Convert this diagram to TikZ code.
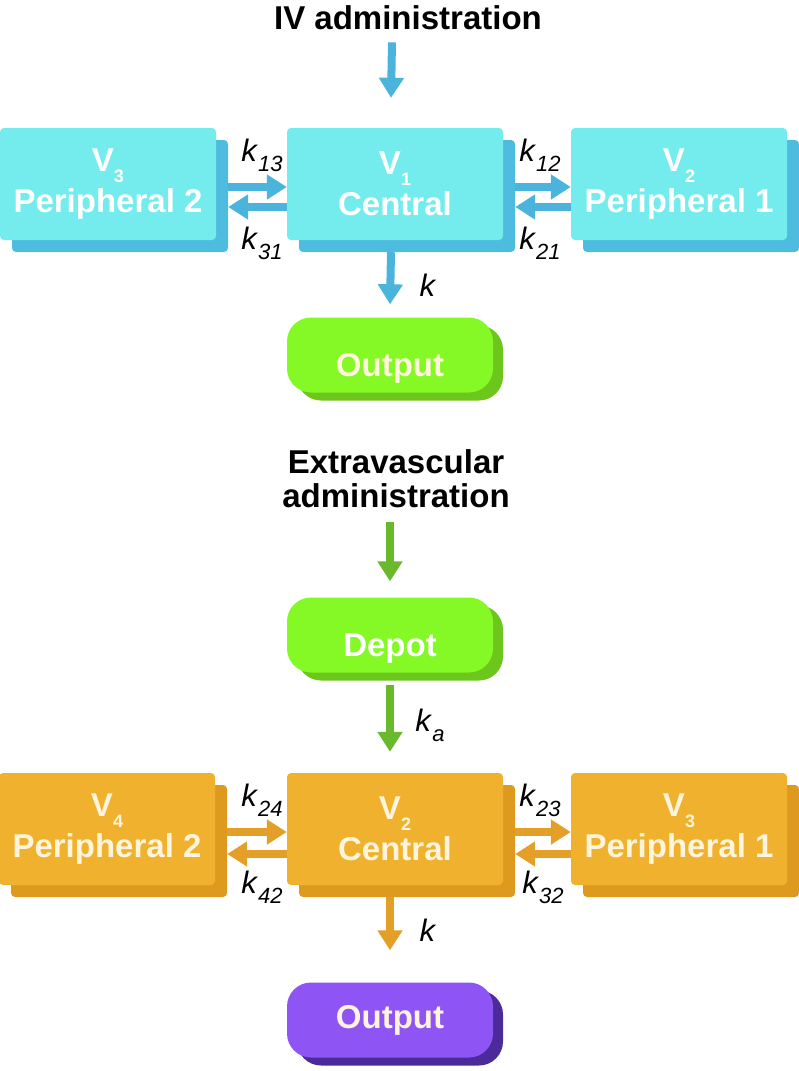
\documentclass[tikz,border=0pt]{standalone}
\usepackage{fontspec}
\setmainfont{Liberation Sans}
\usetikzlibrary{arrows.meta,shadows}

\definecolor{cyanfront}{HTML}{74ECEE}
\definecolor{cyanback}{HTML}{4EBCDF}
\definecolor{cyanarrow}{HTML}{4AB4DC}
\definecolor{greenfront}{HTML}{84F926}
\definecolor{greenback}{HTML}{6CC61C}
\definecolor{greenarrow}{HTML}{6AB82C}
\definecolor{orangefront}{HTML}{F0B12E}
\definecolor{orangeback}{HTML}{DE9A1E}
\definecolor{orangearrow}{HTML}{E39F27}
\definecolor{purplefront}{HTML}{8E55F4}
\definecolor{purpleback}{HTML}{4B2A9A}
\definecolor{cream}{HTML}{FFF5DC}

\newcommand{\vsub}[1]{\raisebox{-11pt}{\fontsize{18}{18}\selectfont #1}}
\newcommand{\rate}[1]{\textit{k}\raisebox{-10pt}{\fontsize{22}{22}\selectfont\itshape #1}}

\begin{document}
\begin{tikzpicture}[x=1pt,y=-1pt,
    every node/.style={font=\bfseries\fontsize{33}{41}\selectfont},
    comp/.style n args={2}{fill=#1,rounded corners=4pt,minimum width=216pt,%
      minimum height=112pt,inner sep=0pt,align=center,%
      general shadow={shadow xshift=12pt,shadow yshift=-12pt,fill=#2}},
    pill/.style n args={2}{fill=#1,rounded corners=24pt,minimum width=206pt,%
      minimum height=75pt,inner sep=0pt,%
      general shadow={shadow xshift=10pt,shadow yshift=-8pt,fill=#2}},
    low/.style={text height=42pt,text depth=0pt},
    ratelbl/.style={font=\fontsize{31}{34}\selectfont,inner sep=0pt},
    flow/.style={line width=8pt,draw=#1,-{Triangle[length=20pt,width=24pt]}}]
  \useasboundingbox (0,0) rectangle (799,1071) ;

  % intravenous
  \node[inner sep=0pt] (ivtitle) at (408,18) {IV administration} ;
  \node[comp={cyanfront}{cyanback},text=white] (cenA) at (395,184) {V\vsub{1}\\Central} ;
  \node[comp={cyanfront}{cyanback},text=white] (perA2) at (108,184) {V\vsub{3}\\Peripheral 2} ;
  \node[comp={cyanfront}{cyanback},text=white] (perA1) at (679,184) {V\vsub{2}\\Peripheral 1} ;
  \node[pill={greenfront}{greenback},low,text=cream] (outA) at (390,355) {Output} ;

  \draw[flow=cyanarrow] ([xshift=-16pt,yshift=-12pt]ivtitle.south) -- ([xshift=-4pt,yshift=30pt]cenA.north) ;
  \draw[flow=cyanarrow] ([xshift=12pt,yshift=-3pt]perA2.east) -- ([yshift=-3pt]cenA.west) ;
  \draw[flow=cyanarrow] ([yshift=-23pt]cenA.west) -- ([xshift=12pt,yshift=-23pt]perA2.east) ;
  \draw[flow=cyanarrow] ([xshift=12pt,yshift=-3pt]cenA.east) -- ([yshift=-3pt]perA1.west) ;
  \draw[flow=cyanarrow] ([yshift=-23pt]perA1.west) -- ([xshift=12pt,yshift=-23pt]cenA.east) ;
  \draw[flow=cyanarrow] ([xshift=-4pt,yshift=-12pt]cenA.south) -- ([yshift=13pt]outA.north) ;

  \node[ratelbl] (k13) at (262,155) {\rate{13}} ;
  \node[ratelbl] (k31) at (262,243) {\rate{31}} ;
  \node[ratelbl] (k12) at (540,155) {\rate{12}} ;
  \node[ratelbl] (k21) at (540,243) {\rate{21}} ;
  \node[ratelbl] (kA) at (428,285) {\textit{k}} ;

  % extravascular
  \node[inner sep=0pt,align=center,font=\bfseries\fontsize{33}{34}\selectfont] %
  (evtitle) at (396,479) {Extravascular\\administration} ;
  \node[pill={greenfront}{greenback},low,text=white] (depot) at (390,635) {Depot} ;
  \node[comp={orangefront}{orangeback},text=cream] (cenB) at (395,829) {V\vsub{2}\\Central} ;
  \node[comp={orangefront}{orangeback},text=cream] (perB2) at (107,829) {V\vsub{4}\\Peripheral 2} ;
  \node[comp={orangefront}{orangeback},text=cream] (perB1) at (679,829) {V\vsub{3}\\Peripheral 1} ;
  \node[pill={purplefront}{purpleback},text=cream] (outB) at (390,1020) {Output} ;

  \draw[flow=greenarrow] ([xshift=-6pt,yshift=-14pt]evtitle.south) -- ([yshift=16pt]depot.north) ;
  \draw[flow=greenarrow] ([yshift=-12pt]depot.south) -- ([xshift=-5pt,yshift=21pt]cenB.north) ;
  \draw[flow=orangearrow] ([xshift=12pt,yshift=-3pt]perB2.east) -- ([yshift=-3pt]cenB.west) ;
  \draw[flow=orangearrow] ([yshift=-25pt]cenB.west) -- ([xshift=12pt,yshift=-25pt]perB2.east) ;
  \draw[flow=orangearrow] ([xshift=12pt,yshift=-3pt]cenB.east) -- ([yshift=-3pt]perB1.west) ;
  \draw[flow=orangearrow] ([yshift=-25pt]perB1.west) -- ([xshift=12pt,yshift=-25pt]cenB.east) ;
  \draw[flow=orangearrow] ([xshift=-5pt,yshift=-12pt]cenB.south) -- ([yshift=32pt]outB.north) ;

  \node[ratelbl] (ka) at (430,725) {\rate{a}} ;
  \node[ratelbl] (k24) at (262,800) {\rate{24}} ;
  \node[ratelbl] (k42) at (262,887) {\rate{42}} ;
  \node[ratelbl] (k23) at (540,800) {\rate{23}} ;
  \node[ratelbl] (k32) at (543,887) {\rate{32}} ;
  \node[ratelbl] (kB) at (428,930) {\textit{k}} ;
\end{tikzpicture}
\end{document}
